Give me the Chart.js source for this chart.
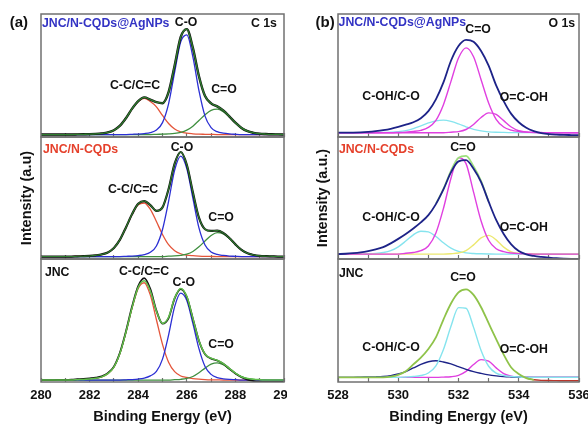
<!DOCTYPE html>
<html><head><meta charset="utf-8">
<script src="https://cdn.jsdelivr.net/npm/chart.js@4.4.1/dist/chart.umd.min.js"></script>
<style>
html,body{margin:0;padding:0;background:#fff;width:588px;height:426px;overflow:hidden;position:relative;}
canvas{position:absolute;}
</style></head><body>
<canvas id="a1" width="300" height="141" style="left:0px;top:0px;width:300px;height:141px"></canvas>
<canvas id="a2" width="300" height="130" style="left:0px;top:133px;width:300px;height:130px"></canvas>
<canvas id="a3" width="300" height="171" style="left:0px;top:255px;width:300px;height:171px"></canvas>
<canvas id="b1" width="301" height="141" style="left:287px;top:0px;width:301px;height:141px"></canvas>
<canvas id="b2" width="301" height="130" style="left:287px;top:133px;width:301px;height:130px"></canvas>
<canvas id="b3" width="301" height="171" style="left:287px;top:255px;width:301px;height:171px"></canvas>
<script>
// ---------- categories (binding energy, eV) ----------
const xA = [280,280.25,280.5,280.75,281,281.25,281.5,281.75,282,282.25,282.5,282.75,283,283.25,283.5,283.75,284,284.25,284.5,284.75,285,285.25,285.5,285.75,286,286.25,286.5,286.75,287,287.25,287.5,287.75,288,288.25,288.5,288.75,289,289.25,289.5,289.75,290];
const xB = [528,528.25,528.5,528.75,529,529.25,529.5,529.75,530,530.25,530.5,530.75,531,531.25,531.5,531.75,532,532.25,532.5,532.75,533,533.25,533.5,533.75,534,534.25,534.5,534.75,535,535.25,535.5,535.75,536];
const ticksA = [280,282,284,286,288,290];
const ticksB = [528,530,532,534,536];

// ---------- (a) C 1s : JNC/N-CQDs@AgNPs ----------
const a1Env   = [2,2,2,2,2,2,2.1,2.2,2.3,2.5,2.9,3.7,5.5,9.2,15.4,23.1,29.2,32.2,30.4,28.4,27.5,36.5,58.2,81.3,87.7,72.5,49.4,33.3,27.4,24.9,21.6,16.8,11.6,7.4,4.7,3.4,2.7,2.4,2.2,2.1,2];
const a1CC    = [2,2,2,2,2,2,2.1,2.2,2.3,2.5,2.9,3.7,5.5,9.2,15.4,22.9,28.8,31.4,28.8,24.5,17.5,11,6.5,4.2,3.1,2.6,2.3,2.2,2.1,2,2,2,2,2,2,2,2,2,2,2,2];
const a1CO    = [2,2,2,2,2,2,2,2,2,2,2,2,2,2,2,2.2,2.4,2.8,3.6,5.7,11.7,27,52.8,77.3,83,65.1,37.7,17,7.6,4.3,3.1,2.5,2.2,2,2,2,2,2,2,2,2];
const a1CdO   = [2,2,2,2,2,2,2,2,2,2,2,2,2,2,2,2,2,2,2,2.2,2.3,2.5,2.9,3.8,5.6,8.8,13.4,18.1,21.7,22.6,20.5,16.3,11.4,7.4,4.7,3.4,2.7,2.4,2.2,2.1,2];

// ---------- (a) C 1s : JNC/N-CQDs ----------
const a2Env   = [2,2,2,2,2,2,2.2,2.3,2.5,3.0,3.8,5.4,9.1,15.9,26.1,36.9,45.2,47.5,44.2,39.4,42.3,57.3,78.2,87.7,77.3,54.7,33.9,24.4,23.0,23.3,21.4,17.2,12.0,7.5,4.7,3.3,2.6,2.3,2.15,2,2];
const a2CC    = [2,2,2,2,2,2,2.2,2.3,2.5,3.0,3.8,5.4,9.1,15.9,25.9,36.5,44.4,45.9,40.7,30.7,20.1,11.7,6.8,4.3,3.2,2.7,2.4,2.2,2.1,2,2,2,2,2,2,2,2,2,2,2,2];
const a2CO    = [2,2,2,2,2,2,2,2,2,2,2,2,2,2,2.2,2.4,2.8,3.6,5.5,10.7,24.2,47.3,72.9,84.4,74.1,49.8,25.5,11.5,5.7,3.7,2.9,2.4,2.2,2,2,2,2,2,2,2,2];
const a2CdO   = [2,2,2,2,2,2,2,2,2,2,2,2,2,2,2,2,2,2,2,2,2,2.3,2.5,3.0,4.0,6.2,10.0,14.7,19.2,21.6,20.5,16.8,11.8,7.5,4.7,3.3,2.6,2.3,2.15,2,2];

// ---------- (a) C 1s : JNC ----------
const a3Raw   = [1.6,1.6,1.6,1.7,1.8,2.0,2.3,2.6,3.0,3.5,4.6,7.2,12.5,24,41.5,61.5,78,84.5,75.5,58,47.5,52,68,75.5,69,51.5,33.5,22.5,19,17.5,14.8,10.8,7,4,2,0.8,0.2,0,0,0,0];
const a3Fit   = [1.6,1.6,1.6,1.6,1.6,1.6,1.9,2.1,2.5,3.0,4.2,6.8,12.1,23.4,40.9,60.7,76.9,82.3,74.0,57.6,47.6,52.6,68.4,76.1,69.6,51.7,33.7,22.7,19.3,17.7,15.0,11.1,7.25,4.3,2.8,2.2,1.9,1.7,1.6,1.6,1.6];
const a3CC    = [1.6,1.6,1.6,1.6,1.6,1.6,1.9,2.1,2.5,3.0,4.2,6.8,12.1,23.4,40.7,60.3,76.1,80.7,70.6,50.6,30.6,16.1,8.4,4.9,3.7,2.8,2.3,2.0,1.8,1.7,1.6,1.6,1.6,1.6,1.6,1.6,1.6,1.6,1.6,1.6,1.6];
const a3CO    = [1.6,1.6,1.6,1.6,1.6,1.6,1.6,1.6,1.6,1.6,1.6,1.6,1.6,1.6,1.8,2.0,2.4,3.2,5.0,8.6,18.6,38.1,61.3,72.2,66.2,47.6,27.1,12.6,6.2,3.6,2.6,2.1,1.85,1.6,1.6,1.6,1.6,1.6,1.6,1.6,1.6];
const a3CdO   = [1.6,1.6,1.6,1.6,1.6,1.6,1.6,1.6,1.6,1.6,1.6,1.6,1.6,1.6,1.6,1.6,1.6,1.6,1.6,1.6,1.6,1.6,1.9,2.2,2.9,4.5,7.5,11.3,14.5,15.6,14.0,10.6,7.0,4.3,2.8,2.2,1.9,1.7,1.6,1.6,1.6];

// ---------- (b) O 1s : JNC/N-CQDs@AgNPs ----------
const b1Env   = [3.5,3.5,3.6,3.8,4.2,4.8,5.6,6.7,8.2,10,12,15.3,21,30.6,44.4,62,74,79,77.5,70,58,42,29.2,18.8,12,7.5,4.8,3.2,2.3,1.9,1.7,1.6,1.5];
const b1CdO   = [3.5,3.5,3.5,3.5,3.5,3.5,3.5,3.5,3.7,4.0,4.5,5.4,7.8,13.6,26.3,45.2,64.2,72.5,65.3,46.6,27.7,14.4,8.1,5.6,4.5,4.0,3.7,3.5,3.5,3.5,3.5,3.5,3.5];
const b1OCOH  = [3.5,3.5,3.5,3.5,3.5,3.5,3.5,3.5,3.5,3.5,3.5,3.5,3.5,3.5,3.5,3.9,4.4,6.1,10.2,15.8,19.6,18.4,13.3,8.1,5.1,4.1,3.75,3.6,3.5,3.5,3.5,3.5,3.5];
const b1COH   = [3.5,3.5,3.5,3.5,3.6,3.65,3.75,4.0,4.4,5.2,6.8,9.0,11.4,13.2,13.7,12.7,10.7,8.3,6.2,4.9,4.2,3.85,3.7,3.6,3.5,3.5,3.5,3.5,3.5,3.5,3.5,3.5,3.5];

// ---------- (b) O 1s : JNC/N-CQDs ----------
const b2Env   = [4,4.3,4.8,5.5,6.5,7.8,9.7,12.8,16.5,20.5,25,30,36,45,57,71,80,81,74,63,47,32,20.5,12,6.5,3.8,2.5,1.7,1.1,0.6,0.3,0.1,0];
const b2Raw   = [null,null,null,null,null,null,null,null,null,null,null,null,null,45.3,57.5,72.5,83,84.5,76,64,47.2,null,null,null,null,null,null,null,null,null,null,null,null];
const b2CdO   = [4,4,4,4,4,4,4,4,4,4.7,5.3,6.8,10.7,21.3,41.4,66.2,82.9,78.2,54.8,31.2,15.4,8.4,6.0,4.9,4.4,4.2,4,4,4,4,4,4,4];
const b2COH   = [4,4,4.1,4.2,4.3,4.6,5.3,6.8,10.0,14.7,19.8,22.7,22.2,18.4,13.3,8.9,6.3,5.0,4.5,4.25,4.1,4,4,4,4,4,4,4,4,4,4,4,4];
const b2OCOH  = [4,4,4,4,4,4,4,4,4,4,4,4,4,4,4,4.3,4.9,6.8,11.6,17.3,19.4,15.7,9.7,5.9,4.7,4.25,4.1,4,4,4,4,4,4];

// ---------- (b) O 1s : JNC ----------
const b3Fit   = [3.8,3.8,3.8,3.8,3.8,3.8,3.8,4.3,5.8,8.8,14.3,19.8,26.8,36.3,50.8,63.8,72.8,75.3,70.8,60.8,47.8,34.8,22.3,11.8,6.5,3.2,1.8,null,null,null,null,null,null];
const b3Raw   = [null,null,null,null,null,null,null,null,null,null,null,null,null,null,null,null,null,null,null,null,null,null,null,null,null,3.2,1.8,1.3,1.2,1.1,1.0,1.0,1.0];
const b3CdO   = [3.8,3.8,3.8,3.8,3.8,3.8,3.8,3.8,3.8,4.1,4.5,5.3,7.3,13.1,26.4,45.3,60.5,60,44.4,25.6,12.8,7.2,5.3,4.5,4.1,3.9,3.8,3.8,3.8,3.8,3.8,3.8,3.8];
const b3COH   = [3.8,3.8,3.8,4.0,4.05,4.2,4.5,5.2,6.5,8.5,11.4,14.3,16.5,17.3,16.3,14.8,12.5,10.3,8.4,7.0,5.8,5.0,4.4,4.1,3.9,3.8,3.8,3.8,3.8,3.8,3.8,3.8,3.8];
const b3OCOH  = [3.8,3.8,3.8,3.8,3.8,3.8,3.8,3.8,3.8,3.8,3.8,3.8,3.8,3.8,4.0,4.3,5.4,8.6,14.2,18.2,16.9,11.5,6.9,4.8,4.15,3.9,3.8,3.8,3.8,3.8,3.8,3.8,3.8];

// ---------- text annotations (data coordinates) ----------
const txtA1 = [['(a)',279.09,92.7,'center','k','L'],['JNC/N-CQDs@AgNPs',280.04,91.9,'left','b'],['C-O',285.97,92.7,'center','k'],['C 1s',289.71,91.9,'right','k'],['C-C/C=C',283.87,41.5,'center','k'],['C=O',287.53,38.2,'center','k']];
const txtA2 = [['JNC/N-CQDs',280.08,89.3,'left','r'],['C-O',285.8,91,'center','k'],['C-C/C=C',283.79,56.6,'center','k'],['C=O',287.41,33.6,'center','k']];
const txtA3 = [['JNC',280.16,88.6,'left','k'],['C-C/C=C',284.24,89.4,'center','k'],['C-O',285.88,80.5,'center','k'],['C=O',287.41,30.1,'center','k']];
const txtB1 = [['(b)',527.57,92.7,'center','k','L'],['JNC/N-CQDs@AgNPs',528.02,92.7,'left','b'],['C=O',532.65,87,'center','k'],['O 1s',535.87,91.9,'right','k'],['C-OH/C-O',529.76,32.5,'center','k'],['O=C-OH',534.17,31.7,'center','k']];
const txtB2 = [['JNC/N-CQDs',528.03,89.3,'left','r'],['C=O',532.15,91,'center','k'],['C-OH/C-O',529.76,33.6,'center','k'],['O=C-OH',534.17,25.4,'center','k']];
const txtB3 = [['JNC',528.03,87.8,'left','k'],['C=O',532.15,84.6,'center','k'],['C-OH/C-O',529.76,27.6,'center','k'],['O=C-OH',534.17,26,'center','k']];

// ---------- styling ----------
const FAM = '"Liberation Sans", Arial, Helvetica, sans-serif';
const FRAME = '#707070';
const TXT = {k:'#111111', b:'#3333c4', r:'#e5402b'};
const C = {red:'#e4553a', blue:'#2b2fd4', green:'#3f8f3f', envG:'#2f7f2f', black:'#111111',
           navy:'#1d2388', mag:'#e040e0', cyan:'#86e4ee', yel:'#ece870', lgreen:'#9ce07c', fitG:'#8fc34a', rawR:'#b8352b'};

const framePlugin = {
  id: 'frame',
  beforeDraw(chart, args, opts) {
    if (opts.whiteBelow) {
      const ctx = chart.ctx;
      ctx.save(); ctx.fillStyle = '#fff';
      ctx.fillRect(0, chart.chartArea.bottom + 1, chart.width, chart.height);
      ctx.restore();
    }
  },
  afterDraw(chart, args, opts) {
    const ctx = chart.ctx, a = chart.chartArea;
    ctx.save();
    ctx.strokeStyle = FRAME; ctx.lineWidth = 1.5;
    ctx.strokeRect(a.left, a.top, a.right - a.left, a.bottom - a.top);
    const xs = chart.scales.x, ys = chart.scales.y;
    for (const t of (opts.texts || [])) {
      ctx.font = t[5] === 'L' ? 'bold 15px ' + FAM : 'bold 12.3px ' + FAM;
      ctx.fillStyle = TXT[t[4]];
      ctx.textAlign = t[3];
      ctx.textBaseline = 'middle';
      ctx.fillText(t[0], xs.getPixelForValue(t[1]), ys.getPixelForValue(t[2]));
    }
    ctx.restore();
  }
};

function ds(data, color, width) {
  return {data, borderColor: color, borderWidth: width, pointRadius: 0, fill: false,
          cubicInterpolationMode: 'monotone', spanGaps: false};
}

function build(id, xs, xmin, xmax, tickVals, datasets, texts, o) {
  return new Chart(document.getElementById(id), {
    type: 'line',
    data: {labels: xs, datasets},
    options: {
      responsive: false, animation: false, devicePixelRatio: 1, events: [],
      layout: {padding: {left: 0, right: o.padRight, top: o.padTop, bottom: 0}},
      plugins: {legend: {display: false}, tooltip: {enabled: false},
                frame: {texts, whiteBelow: !!o.whiteBelow}},
      scales: {
        x: {type: 'linear', min: xmin, max: xmax,
            border: {display: false},
            grid: {display: true, drawOnChartArea: false, drawTicks: true, tickLength: -4, tickColor: FRAME, tickWidth: 1.2},
            ticks: {display: !!o.labels, stepSize: 1, autoSkip: false, maxRotation: 0, minRotation: 0, padding: 10,
                    font: {family: FAM, size: 13, weight: 'bold'}, color: '#111',
                    callback: v => tickVals.includes(v) ? String(v) : ''},
            title: {display: !!o.labels, text: 'Binding Energy (eV)', color: '#111',
                    font: {family: FAM, size: 14.5, weight: 'bold'}, padding: {top: 0, bottom: 0}},
            afterFit: s => { s.height = o.xh; s.paddingLeft = 0; s.paddingRight = 0; }},
        y: {min: 0, max: 100,
            border: {display: false}, grid: {display: false}, ticks: {display: false},
            title: {display: !!o.yTitle, text: o.yTitle || '', color: '#111',
                    font: {family: FAM, size: 14.5, weight: 'bold'}, padding: {top: o.yPad || 0, bottom: 0}},
            afterFit: s => { s.width = o.yw; s.paddingTop = 0; s.paddingBottom = 0; }}
      }
    },
    plugins: [framePlugin]
  });
}

// panel (a)
build('a1', xA, 280, 290, ticksA, [
  ds(a1Env, C.envG, 1.3), ds(a1Env, C.black, 2.4), ds(a1CO, C.blue, 1.3), ds(a1CdO, C.green, 1.3), ds(a1CC, C.red, 1.3)
], txtA1, {padRight: 16, padTop: 14, xh: 4, yw: 41});
build('a2', xA, 280, 290, ticksA, [
  ds(a2Env, C.envG, 1.1), ds(a2Env, C.black, 2.2), ds(a2CO, C.blue, 1.3), ds(a2CdO, C.green, 1.3), ds(a2CC, C.red, 1.3)
], txtA2, {padRight: 16, padTop: 4, xh: 4, yw: 41, yTitle: 'Intensity (a.u)', yPad: 18.5});
build('a3', xA, 280, 290, ticksA, [
  ds(a3Fit, '#5fc04a', 1.5), ds(a3Raw, C.black, 1.8), ds(a3CO, C.blue, 1.3), ds(a3CdO, C.green, 1.3), ds(a3CC, C.red, 1.3)
], txtA3, {padRight: 16, padTop: 4, xh: 44, yw: 41, labels: true});

// panel (b)
build('b1', xB, 528, 536, ticksB, [
  ds(b1Env, C.navy, 1.8), ds(b1CdO, C.mag, 1.4), ds(b1OCOH, C.mag, 1.4), ds(b1COH, C.cyan, 1.3)
], txtB1, {padRight: 9, padTop: 14, xh: 4, yw: 51});
build('b2', xB, 528, 536, ticksB, [
  ds(b2Env, C.navy, 1.8), ds(b2Raw, C.lgreen, 1.6), ds(b2CdO, C.mag, 1.4), ds(b2OCOH, C.yel, 1.4), ds(b2COH, C.cyan, 1.4)
], txtB2, {padRight: 9, padTop: 4, xh: 4, yw: 51, yTitle: 'Intensity (a.u.)', yPad: 27});
build('b3', xB, 528, 536, ticksB, [
  ds(b3Fit, C.fitG, 1.8), ds(b3Raw, C.rawR, 1.4), ds(b3CdO, C.cyan, 1.4), ds(b3COH, C.navy, 1.4), ds(b3OCOH, C.mag, 1.4)
], txtB3, {padRight: 9, padTop: 4, xh: 44, yw: 51, labels: true, whiteBelow: true});
</script>
</body></html>
